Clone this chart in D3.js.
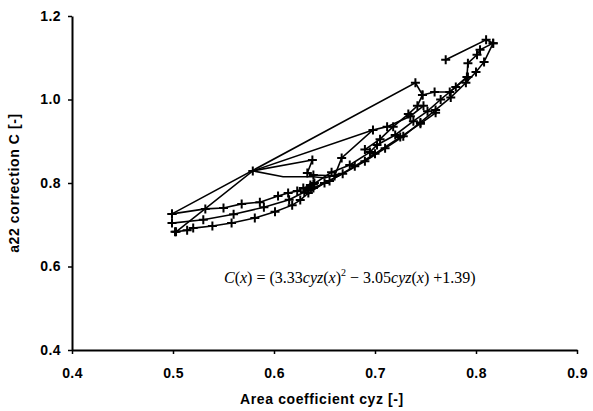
<!DOCTYPE html>
<html>
<head>
<meta charset="utf-8">
<script src="https://cdn.jsdelivr.net/npm/d3@7"></script>
<style>
  body { margin: 0; background: #fff; }
  .tick text { font-family: "Liberation Sans", Arial, sans-serif; font-weight: bold; font-size: 14px; letter-spacing: 0.4px; fill: #000; }
  .axtitle { font-family: "Liberation Sans", Arial, sans-serif; font-weight: bold; font-size: 14px; letter-spacing: 0.6px; }
  .eq { font-family: "Liberation Serif", "Times New Roman", serif; font-size: 16px; }
</style>
</head>
<body>
<script>
// tick labels
var xTicks = [0.4, 0.5, 0.6, 0.7, 0.8, 0.9];
var yTicks = [0.4, 0.6, 0.8, 1.0, 1.2];

// measured tracks, [cyz, C]
var lowerTrack = [[0.502,0.683],[0.514,0.687],[0.520,0.692],[0.539,0.697],[0.558,0.704],[0.581,0.716],
  [0.601,0.731],[0.618,0.747],[0.626,0.759],[0.634,0.776],[0.650,0.800],[0.668,0.822],[0.690,0.852],
  [0.710,0.883],[0.728,0.912],[0.745,0.945],[0.760,0.975],[0.775,1.005],[0.790,1.040],[0.800,1.066],
  [0.808,1.090],[0.817,1.135]];
var upperTrack = [[0.499,0.726],[0.532,0.738],[0.550,0.740],[0.568,0.750],[0.586,0.754],[0.604,0.769],
  [0.614,0.776],[0.623,0.781],[0.629,0.788],[0.639,0.797],[0.657,0.826],[0.675,0.843],[0.695,0.874],
  [0.702,0.891],[0.720,0.915],[0.738,0.948],[0.752,0.972],[0.765,1.000],[0.780,1.030],[0.792,1.054]];
var middleTrack = [[0.499,0.704],[0.530,0.712],[0.560,0.725],[0.590,0.742],[0.615,0.760],[0.634,0.783],
  [0.655,0.805],[0.680,0.840],[0.700,0.870],[0.725,0.910],[0.745,0.942],[0.760,0.968]];
var bigLoop = [[0.499,0.726],[0.740,1.040],[0.747,1.011],[0.742,0.985],[0.733,0.965],[0.718,0.935],
  [0.705,0.905],[0.690,0.880]];
var topLoop = [[0.770,1.095],[0.810,1.143],[0.817,1.135],[0.804,1.119],[0.801,1.107],[0.792,1.087],
  [0.791,1.054],[0.774,1.018],[0.759,1.018],[0.747,1.011]];
var sideLoop = [[0.503,0.683],[0.579,0.829],[0.638,0.855],[0.633,0.824],[0.639,0.819],[0.660,0.817],
  [0.667,0.860],[0.698,0.927],[0.712,0.935],[0.735,0.960],[0.748,0.985]];
var sideCurve = [[0.579,0.829],[0.609,0.815],[0.639,0.815],[0.650,0.812],[0.665,0.822]];
var sideLine = [[0.579,0.829],[0.698,0.927]];
var lowCluster = [[0.634,0.783],[0.639,0.788],[0.636,0.795],[0.630,0.778],[0.640,0.800]];

var series = [lowerTrack, upperTrack, middleTrack, bigLoop, topLoop, sideLoop, sideCurve, sideLine, lowCluster];

var width = 593, height = 411;

var svg = d3.select('body').append('svg')
    .attr('width', width)
    .attr('height', height);

var x = d3.scaleLinear().domain([0.4, 0.9]).range([72, 577]);
var y = d3.scaleLinear().domain([0.4, 1.2]).range([350, 16]);

// axes
svg.append('g')
    .attr('transform', 'translate(0,350)')
    .call(d3.axisBottom(x).tickValues(xTicks).tickFormat(d3.format('.1f')).tickSize(4).tickSizeOuter(0))
    .call(function(g){
        g.select('.domain').attr('stroke-width', 2);
        g.selectAll('.tick line').attr('stroke-width', 1.5);
        g.selectAll('.tick text').attr('y', 28).attr('dy', 0);
    });

svg.append('g')
    .attr('transform', 'translate(72,0)')
    .call(d3.axisLeft(y).tickValues(yTicks).tickFormat(d3.format('.1f')).tickSize(4).tickSizeOuter(0))
    .call(function(g){
        g.select('.domain').attr('stroke-width', 2);
        g.selectAll('.tick line').attr('stroke-width', 1.5);
        g.selectAll('.tick text').attr('x', -11);
    });

// lines
var line = d3.line().x(function(d){ return x(d[0]); }).y(function(d){ return y(d[1]); });

svg.selectAll('.track')
    .data(series)
    .enter()
    .append('path')
    .attr('class', 'track')
    .attr('fill', 'none')
    .attr('stroke', '#000')
    .attr('stroke-width', 1.6)
    .attr('d', line);

// plus markers
var pts = [];
series.forEach(function(s){ if (s !== sideCurve && s !== sideLine) s.forEach(function(p){ pts.push(p); }); });

svg.selectAll('.mark')
    .data(pts)
    .enter()
    .append('path')
    .attr('class', 'mark')
    .attr('stroke', '#000')
    .attr('stroke-width', 2)
    .attr('d', function(d){
        var cx = x(d[0]), cy = y(d[1]), r = 4.5;
        return 'M' + (cx - r) + ',' + cy + 'H' + (cx + r) + 'M' + cx + ',' + (cy - r) + 'V' + (cy + r);
    });

// equation
var eq = svg.append('text').attr('class', 'eq').attr('x', 224).attr('y', 283);
eq.append('tspan').attr('font-style', 'italic').text('C');
eq.append('tspan').text('(');
eq.append('tspan').attr('font-style', 'italic').text('x');
eq.append('tspan').text(') = (3.33');
eq.append('tspan').attr('font-style', 'italic').text('cyz');
eq.append('tspan').text('(');
eq.append('tspan').attr('font-style', 'italic').text('x');
eq.append('tspan').text(')');
eq.append('tspan').attr('font-size', 10).attr('dy', -7).text('2');
eq.append('tspan').attr('dy', 7).text(' \u2212 3.05');
eq.append('tspan').attr('font-style', 'italic').text('cyz');
eq.append('tspan').text('(');
eq.append('tspan').attr('font-style', 'italic').text('x');
eq.append('tspan').text(') +1.39)');

// axis titles
svg.append('text')
    .attr('class', 'axtitle')
    .attr('x', 322)
    .attr('y', 404)
    .attr('text-anchor', 'middle')
    .text('Area coefficient cyz [-]');

svg.append('text')
    .attr('class', 'axtitle')
    .attr('transform', 'translate(19,183) rotate(-90)')
    .attr('text-anchor', 'middle')
    .text('a22 correction C [-]');
</script>
</body>
</html>
